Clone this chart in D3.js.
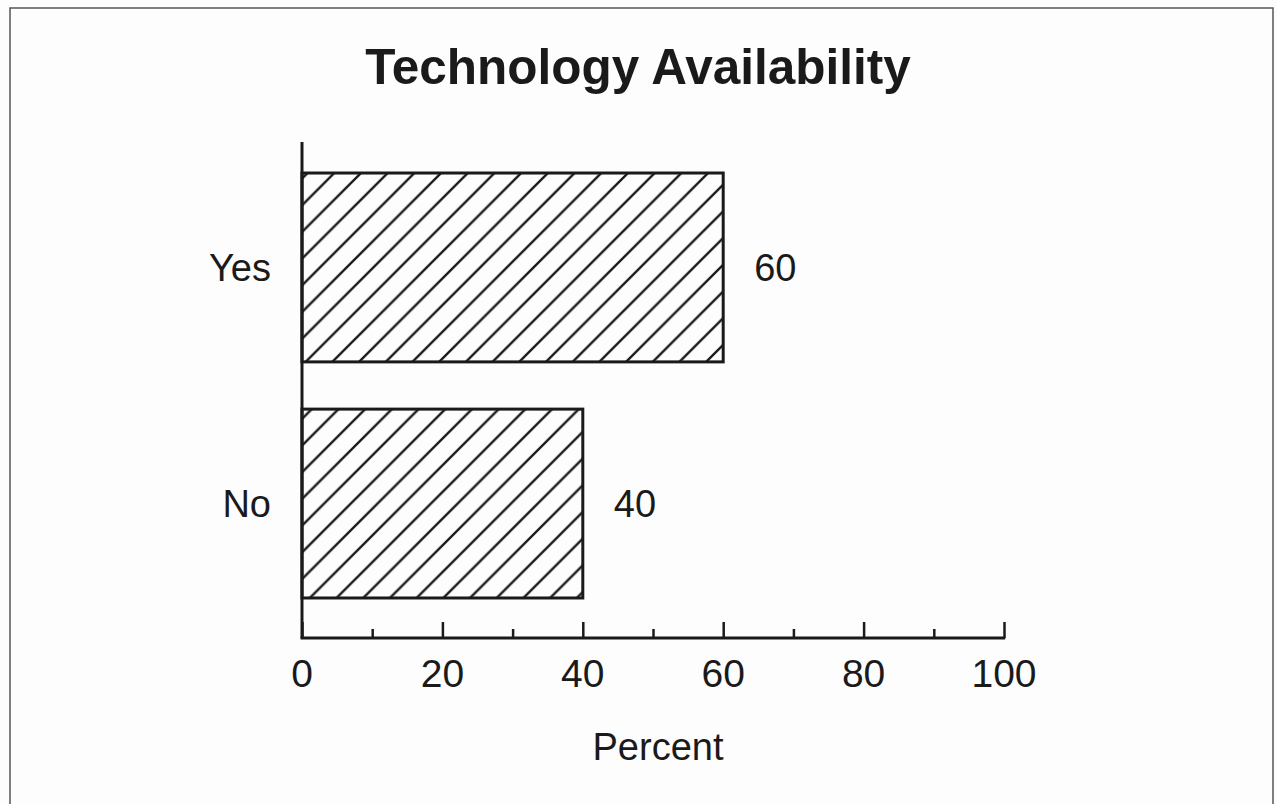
<!DOCTYPE html>
<html>
<head>
<meta charset="utf-8">
<script src="https://cdn.jsdelivr.net/npm/d3@7"></script>
<style>
  html, body { margin: 0; padding: 0; background: #fdfdfd; }
  svg { display: block; }
  text { font-family: "Liberation Sans", Arial, Helvetica, sans-serif; fill: #1a1a1a; }
</style>
</head>
<body>
<svg id="chart" width="1277" height="804"></svg>
<script>
const title = "Technology Availability";
const categories = ["Yes", "No"];
const values = [60, 40];
const valueLabels = ["60", "40"];
const tickValues = [0, 20, 40, 60, 80, 100];
const minorTickValues = [10, 30, 50, 70, 90];
const xAxisTitle = "Percent";

const svg = d3.select("#chart");
const ink = "#1a1a1a";

svg.append("rect").attr("width", 1277).attr("height", 804).attr("fill", "#fdfdfd");

// page frame
svg.append("path")
  .attr("d", "M10,812 L10,8 L1273,8 L1273,812")
  .attr("fill", "none").attr("stroke", "#555").attr("stroke-width", 1.5);

// hatch pattern
const w = 26.7;
const defs = svg.append("defs");
const pat = defs.append("pattern")
  .attr("id", "hatch").attr("patternUnits", "userSpaceOnUse")
  .attr("width", w).attr("height", w);
pat.append("path")
  .attr("d", `M0,${w} L${w},0 M${-w/2},${w/2} L${w/2},${-w/2} M${w/2},${w*1.5} L${w*1.5},${w/2}`)
  .attr("stroke", ink).attr("stroke-width", 2.4).attr("fill", "none");

const x = d3.scaleLinear().domain([0, 100]).range([302, 1004]);
const y = d3.scaleBand().domain(categories).range([137.6, 633.4])
  .paddingInner(0.2).paddingOuter(0.15);

const axisY = 638;

// title
svg.append("text").attr("x", 638).attr("y", 84)
  .attr("text-anchor", "middle").attr("font-size", 49.5).attr("font-weight", "bold")
  .text(title);

// bars
const data = categories.map((c, i) => ({ c, v: values[i], label: valueLabels[i] }));
svg.selectAll("rect.bar").data(data).enter().append("rect")
  .attr("class", "bar")
  .attr("x", x(0))
  .attr("y", d => y(d.c))
  .attr("width", d => x(d.v) - x(0))
  .attr("height", y.bandwidth())
  .attr("fill", "url(#hatch)")
  .attr("stroke", ink).attr("stroke-width", 3);

// value labels
svg.selectAll("text.val").data(data).enter().append("text")
  .attr("class", "val")
  .attr("x", d => x(d.v) + 31)
  .attr("y", d => y(d.c) + y.bandwidth() / 2)
  .attr("dy", "0.36em")
  .attr("font-size", 38)
  .text(d => d.label);

// category labels
svg.selectAll("text.cat").data(categories).enter().append("text")
  .attr("class", "cat")
  .attr("x", 271)
  .attr("y", d => y(d) + y.bandwidth() / 2)
  .attr("dy", "0.36em")
  .attr("text-anchor", "end")
  .attr("font-size", 38)
  .text(d => d);

// y axis line
svg.append("line").attr("x1", x(0)).attr("x2", x(0)).attr("y1", 142).attr("y2", axisY)
  .attr("stroke", ink).attr("stroke-width", 3);

// x axis
const gx = svg.append("g").attr("transform", `translate(0,${axisY})`);
const xAxis = d3.axisTop(x).tickValues(tickValues).tickSize(16).tickFormat("");
gx.call(xAxis);
gx.select(".domain").remove();
gx.selectAll(".tick line").attr("stroke", ink).attr("stroke-width", 2.5);
const gm = svg.append("g").attr("transform", `translate(0,${axisY})`);
gm.call(d3.axisTop(x).tickValues(minorTickValues).tickSize(9).tickFormat(""));
gm.select(".domain").remove();
gm.selectAll(".tick line").attr("stroke", ink).attr("stroke-width", 2.5);
svg.append("line").attr("x1", x(0) - 1.5).attr("x2", x(100) + 1.2).attr("y1", axisY).attr("y2", axisY)
  .attr("stroke", ink).attr("stroke-width", 3);

// tick labels
svg.selectAll("text.tick").data(tickValues).enter().append("text")
  .attr("class", "tick")
  .attr("x", d => x(d))
  .attr("y", 687)
  .attr("text-anchor", "middle")
  .attr("font-size", 39)
  .text(d => d);

// axis title
svg.append("text").attr("x", 658).attr("y", 760)
  .attr("text-anchor", "middle").attr("font-size", 38)
  .text(xAxisTitle);
</script>
</body>
</html>
